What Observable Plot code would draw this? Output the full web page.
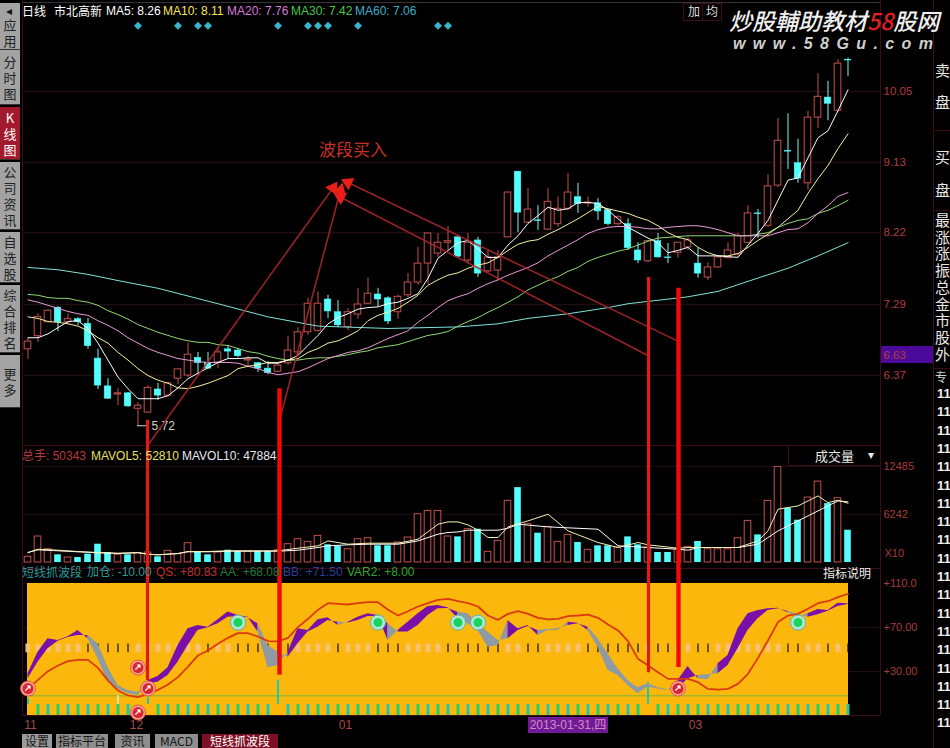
<!DOCTYPE html>
<html><head><meta charset="utf-8">
<script src="https://cdn.jsdelivr.net/npm/d3@7"></script>
<script src="https://cdn.jsdelivr.net/npm/@observablehq/plot@0.6"></script>
<style>
html,body{margin:0;padding:0;background:#000;}
#page{position:relative;width:950px;height:748px;overflow:hidden;background:#000;font-family:"Liberation Sans","Noto Sans CJK SC",sans-serif;font-size:12px;color:#fff;}
#page svg{position:absolute;background:transparent;}
.t{position:absolute;white-space:nowrap;line-height:14px;}
.btn{position:absolute;left:0;width:20px;background:#a3a3a3;color:#222;text-align:center;font-size:13px;line-height:16px;box-sizing:border-box;border-bottom:1px solid #333;font-family:"Noto Sans CJK SC";overflow:hidden;}
.tab{position:absolute;top:734px;height:14px;background:#8e8e8e;color:#151515;text-align:center;line-height:14px;font-size:12px;font-family:"Noto Sans CJK SC","Liberation Sans";}
.line{position:absolute;background:#3d0d16;}
</style></head><body><div id="page"></div>
<script>
const opens=[6.71,6.88,7.06,7.25,7.06,7.10,7.04,6.59,6.23,6.125,6.14,5.94,5.89,6.19,6.11,6.33,6.37,6.60,6.53,6.54,6.71,6.695,6.565,6.53,6.46,6.42,6.53,6.67,6.93,6.95,7.355,7.19,7.00,7.16,7.30,7.42,7.37,7.19,7.41,7.575,7.82,7.95,8.09,8.16,7.86,8.12,7.72,7.73,8.16,9.01,8.35,8.38,8.26,8.33,8.53,8.68,8.60,8.60,8.51,8.33,8.33,7.99,7.85,8.11,7.90,7.96,8.03,7.82,7.64,7.77,7.89,7.94,8.09,8.47,8.31,8.83,9.28,9.12,8.86,9.71,9.97,9.80,10.46];
const closes=[6.81,7.13,7.21,7.06,7.10,7.06,6.75,6.24,6.07,6.14,5.97,5.98,6.21,6.11,6.27,6.45,6.64,6.53,6.46,6.67,6.68,6.62,6.58,6.46,6.40,6.50,6.695,6.93,7.30,7.30,7.20,7.02,7.19,7.29,7.43,7.355,7.07,7.39,7.575,7.82,8.21,8.09,8.11,7.91,8.09,7.69,7.90,7.90,8.74,8.48,8.52,8.37,8.62,8.53,8.74,8.59,8.61,8.495,8.33,8.42,8.02,7.86,8.11,7.90,7.89,8.09,8.12,7.69,7.77,7.90,7.99,8.18,8.47,8.46,8.82,9.41,9.27,8.92,9.71,9.98,9.89,10.41,10.45];
const highs=[6.85,7.17,7.22,7.26,7.17,7.12,7.11,6.71,6.33,6.20,6.15,6.02,6.24,6.27,6.28,6.45,6.79,6.67,6.67,6.73,6.75,6.72,6.62,6.54,6.55,6.53,6.88,6.99,7.37,7.45,7.41,7.34,7.24,7.50,7.63,7.50,7.39,7.41,7.69,8.03,8.21,8.21,8.30,8.18,8.21,8.16,7.99,7.99,8.74,9.01,8.79,8.57,8.79,8.68,8.99,8.86,8.68,8.66,8.52,8.44,8.40,8.09,8.12,8.21,8.08,8.09,8.16,8.02,7.83,7.91,8.09,8.21,8.57,8.52,8.97,9.70,9.76,9.43,9.79,10.28,10.18,10.46,10.48];
const lows=[6.58,6.80,7.06,6.94,7.03,7.02,6.71,6.19,6.06,5.98,5.96,5.72,5.89,6.05,6.09,6.25,6.345,6.40,6.45,6.46,6.59,6.60,6.49,6.41,6.38,6.41,6.50,6.63,6.89,6.93,7.11,6.99,6.95,7.10,7.29,7.26,7.03,7.10,7.38,7.54,7.55,7.90,7.99,7.90,7.82,7.64,7.70,7.59,8.16,8.22,8.34,8.25,8.25,8.29,8.51,8.47,8.55,8.38,8.31,8.31,7.99,7.82,7.83,7.89,7.82,7.89,7.99,7.63,7.60,7.76,7.89,7.90,8.08,8.145,8.29,8.80,9.04,8.86,8.77,9.57,9.67,9.78,10.24];
const ma5=[6.86,6.86,6.91,6.99,7.07,7.08,6.98,6.79,6.57,6.35,6.20,6.07,6.07,6.07,6.11,6.21,6.33,6.40,6.47,6.54,6.59,6.59,6.60,6.60,6.53,6.53,6.57,6.63,6.76,6.89,7.04,7.12,7.17,7.23,7.25,7.26,7.30,7.32,7.37,7.43,7.63,7.89,7.99,8.09,8.12,8.01,7.90,7.90,8.06,8.18,8.34,8.44,8.55,8.51,8.53,8.61,8.61,8.60,8.51,8.40,8.29,8.22,8.15,8.09,7.96,7.99,8.03,7.92,7.92,7.92,7.91,7.90,8.06,8.21,8.38,8.64,8.90,8.93,9.19,9.45,9.54,9.80,10.07];
const ma10=[7.13,7.11,7.07,7.06,7.04,7.01,6.95,6.86,6.79,6.67,6.57,6.46,6.37,6.31,6.27,6.21,6.20,6.23,6.27,6.32,6.37,6.46,6.49,6.51,6.54,6.54,6.57,6.59,6.67,6.72,6.79,6.82,6.88,6.95,7.08,7.15,7.19,7.24,7.32,7.41,7.54,7.61,7.67,7.70,7.76,7.80,7.83,7.90,7.99,8.07,8.11,8.13,8.20,8.26,8.33,8.40,8.48,8.56,8.53,8.50,8.47,8.42,8.38,8.31,8.22,8.16,8.13,8.03,7.96,7.92,7.92,7.95,8.03,8.12,8.20,8.29,8.40,8.51,8.73,8.92,9.09,9.31,9.50];
const ma20=[7.35,7.32,7.28,7.24,7.20,7.17,7.15,7.08,7.02,6.95,6.86,6.79,6.72,6.67,6.63,6.59,6.57,6.55,6.54,6.54,6.54,6.53,6.49,6.46,6.41,6.38,6.40,6.42,6.47,6.53,6.59,6.63,6.67,6.69,6.73,6.79,6.85,6.90,6.95,7.06,7.15,7.25,7.34,7.39,7.43,7.50,7.56,7.61,7.67,7.72,7.77,7.83,7.92,7.99,8.06,8.13,8.21,8.26,8.29,8.30,8.30,8.29,8.27,8.27,8.29,8.30,8.31,8.31,8.29,8.26,8.22,8.18,8.18,8.18,8.18,8.22,8.26,8.27,8.35,8.47,8.57,8.69,8.74];
const ma30=[7.42,7.41,7.38,7.37,7.37,7.34,7.32,7.28,7.21,7.16,7.10,7.03,6.98,6.93,6.89,6.85,6.82,6.80,6.80,6.77,6.76,6.72,6.68,6.66,6.62,6.59,6.57,6.57,6.59,6.60,6.60,6.62,6.64,6.67,6.69,6.73,6.75,6.77,6.81,6.85,6.89,6.91,6.94,7.01,7.07,7.12,7.19,7.25,7.32,7.39,7.48,7.54,7.60,7.65,7.72,7.77,7.85,7.90,7.94,7.98,8.01,8.06,8.11,8.15,8.16,8.17,8.18,8.18,8.18,8.18,8.18,8.18,8.18,8.20,8.22,8.29,8.34,8.38,8.40,8.47,8.51,8.57,8.64];
const ma60Bars=[0,3,6,9,13,19,24,29,36,43,47,50,54,58,60,66,69,72,76,79,82];
const ma60=[7.77,7.74,7.68,7.60,7.50,7.30,7.13,7.01,6.98,7.00,7.04,7.11,7.17,7.25,7.30,7.39,7.46,7.59,7.76,7.92,8.09];
const priceTicks=[10.05,9.13,8.22,7.29,6.63,6.37];
const signalBars=[11,15,17,18,25,28,29,30,33,41,42];

const volumes=[736,3380,1730,1000,650,650,1080,2380,1300,1000,1000,1210,1300,740,1510,1080,2510,1300,1000,1300,1600,1430,1430,1430,1430,1600,2380,3030,2680,3460,2300,2120,1730,3030,3160,2170,2170,2600,3250,6280,6710,6710,3380,3330,4330,4330,1390,2810,8010,9740,4980,3810,4630,2680,3590,2600,1650,2170,2170,1950,3330,2300,1950,1300,1300,1730,2040,2730,1730,1730,1730,3160,5410,3590,8010,12430,7060,5500,8440,10520,7660,8360,4200];
const mavol5Bars=[0,1,3,5,7,9,11,12,13,15,16,18,20,25,27,29,30,32,34,37,39,41,42,43,44,45,46,47,48,50,52,53,54,57,59,61,62,65,66,71,73,74,75,77,79,80,81,82];
const mavol5=[1300,1730,1600,1430,1300,1210,1300,1080,1000,1170,1430,1430,1520,1520,1860,2170,2810,2380,2510,2510,3030,4980,5280,5280,4890,4200,3250,3250,4630,5410,6280,5200,4110,2600,1950,2600,2300,1860,1950,1950,2810,4110,6930,7360,8660,7790,8100,7710];
const mavol10Bars=[0,1,3,5,7,9,11,12,13,15,16,18,20,25,27,29,30,32,34,37,39,41,42,43,44,45,47,48,49,52,57,59,65,66,67,71,73,75,77,79,81,82];
const mavol10=[1300,1650,1520,1390,1260,1170,1260,1080,1000,1170,1390,1390,1470,1470,1600,1950,2170,2300,2380,2380,2810,3680,3900,3980,4200,4200,4200,4460,4980,4630,4330,2170,1730,1600,1950,1950,2380,4110,5410,6710,8010,7880];
const volumeTicks=[12485,6242];

const qs=[14.2,22.4,30.3,35.5,39.4,40.6,40.6,33.3,21.8,12.7,8.2,6.7,9.7,13.3,18.2,24.9,34.5,44.6,49.1,55.2,60.6,64.9,64.9,61.8,57.6,57.3,60.6,70.3,77.9,86.1,92.1,91.5,90.9,92.1,93,93,86.1,80.9,84.8,89.1,92.1,95.2,96.1,93.9,92.1,89.1,80.9,77,82.4,84.8,82.4,78.8,77.3,77.9,80.3,80.9,81.8,78.8,72.7,67.3,57.6,41.5,35.5,29.4,23.3,23.3,23.3,20.3,14.2,13.6,14.2,18.8,27.9,42.4,58.2,74.9,80.9,82.4,87,92.1,93.9,97.6,100.6];
const aa=[27.9,47.6,59.7,58.2,61.5,67.3,59.7,41.5,20.3,14.2,9.7,8.2,21.8,25.5,33.3,53.6,68.8,71.8,70.3,77,84,80.9,79.4,65.8,33.3,35.5,47.6,68.8,67.3,77,78.8,71.8,74.8,79.4,82.4,80.9,58.2,67.3,74.8,82.4,89.1,90,87.9,77.9,73.3,67.3,52.1,53.6,76.4,68.8,71.8,62.7,67.3,67.3,74.8,73.9,67.3,52.1,30.9,26.4,17.3,9.7,15.8,14.2,12.7,21.8,34.6,23.3,22.4,37,44.6,68.8,82.4,85.5,87,87.6,83.3,79.4,82.4,86.4,85.5,92.1,91.5];
const bb=[23.3,38.5,50.6,57.6,61,62.7,62.7,55.2,33.9,17.3,12.7,11.2,18.8,20.3,26.4,38.5,53.6,67.3,69.7,73.3,79.4,80,78.8,73.3,53.6,47.6,43,55.2,65.8,70.3,76.4,74.8,74.2,76.4,80,80,73.3,65.8,65.8,71.8,80.9,87,87.3,83.9,82.4,73.3,65.8,58.2,59.7,67.3,70.9,67.3,68.2,68.8,71.8,73.3,70.3,59.7,46,32.4,21.8,15.2,18.8,15.2,13.3,14.2,23.3,26.4,27.3,27.9,35.5,50.6,67.3,77.9,85.5,87,84.5,81.5,79.4,81.5,84.8,89.1,90.9];
const var2=8;
const blackTickBars=[6,7,8,9,10,18,21,22,23,24,25,26,31,35,36,37,42,43,44,45,46,47,50,51,56,57,58,59,60,61,63,64,67,68,76,77,80,82];
const stickGapBars=[0,11,12,25,62];
const tallStickBars=[0,12,25,62];
const tallStickValues=[5,6,22,20];
const redBallBars=[0,11,12,11,65];
const redBallValues=[14.5,33.6,14.5,-7.3,14.5];
const greenBallBars=[21,35,43,45,77];
const greenBallValues=[74.5,74.5,74.5,74.5,74.5];
const monthLabels=["11","12","01","03"];
const monthBars=[0.25,10.85,31.75,66.75];

const arrowFromBars=[11.95,25.15,65.25,62];
const arrowFromPrices=[5.46,5.79,6.80,6.63];
const arrowToBars=[30.5,31.25,32,31.25];
const arrowToPrices=[8.80,8.77,8.87,8.68];
const thinMarkBars=[11.95,62.05];
const thinMarkTops=[5.79,7.64];
const thinMarkEnds=[2.42,2.52];
const thickMarkBars=[25.15,65.05];
const thickMarkTops=[6.20,7.50];
const thickMarkEnds=[2.49,2.59];

const bars=d3.range(opens.length);
const RED="#c4504e",CYAN="#54fcfc",FONT='"Liberation Sans",sans-serif';
const xScale={domain:[-0.55,85.25],axis:null};
const fmt2=d=>d.toFixed(2);
const upBars=bars.filter(i=>closes[i]>=opens[i]),downBars=bars.filter(i=>closes[i]<opens[i]);
const W=.33;
const page=document.getElementById("page");
function place(svg,top){svg.style.left="0";svg.style.top=top+"px";page.appendChild(svg);}

function div(cls,css,html){const d=document.createElement("div");d.className=cls;d.style.cssText=css;d.innerHTML=html||"";page.appendChild(d);return d;}
function text(x,y,s,color,extra){div("t",`left:${x}px;top:${y-7}px;color:${color};${extra||""}`,s);}

[[22,2,858,1,"#333"],[22,445,858,1,"#3d0d16"],[22,568,858,1,"#3d0d16"],[22,715,858,1,"#3d0d16"]].forEach(([l,t,w,h,c])=>div("line",`left:${l}px;top:${t}px;width:${w}px;height:${h}px;background:${c}`));
[[22,0,715],[880,0,715],[933,0,748]].forEach(([l,t,h])=>div("line",`left:${l}px;top:${t}px;width:1px;height:${h}px`));
div("line","left:881px;top:346px;width:52px;height:17px;background:#4c0a9a");

const volPlot=Plot.plot({width:950,height:123,marginTop:0,marginBottom:0,marginLeft:22,marginRight:70,
  x:xScale,y:{domain:[-780,15216],range:[123,0]},
  marks:[
    Plot.ruleY(volumeTicks,{stroke:"#1f0c10",strokeWidth:1}),
    Plot.axisY(volumeTicks,{anchor:"right",tickSize:0,tickPadding:3,label:null,fill:"#a83c3c",fontSize:11,fontFamily:FONT,tickFormat:d=>String(d),textAnchor:"start"}),
    Plot.rect(upBars,{x1:i=>i-W,x2:i=>i+W,y1:0,y2:i=>volumes[i],fill:"#000",stroke:RED,strokeWidth:1}),
    Plot.rect(downBars,{x1:i=>i-W,x2:i=>i+W,y1:0,y2:i=>volumes[i],fill:CYAN}),
    Plot.line(mavol10Bars,{x:d=>d,y:(d,i)=>mavol10[i],stroke:"#ffffff",strokeWidth:1}),
    Plot.line(mavol5Bars,{x:d=>d,y:(d,i)=>mavol5[i],stroke:"#f5efb4",strokeWidth:1}),
    Plot.text(["X10"],{x:85.65,y:1170,text:d=>d,textAnchor:"start",fill:"#a83c3c",fontSize:11,fontFamily:FONT})
  ]});
place(volPlot,445);

const runs=[];
{let id=0;bars.forEach(i=>{const up=aa[i]>=bb[i];if(i>0&&up!==(aa[i-1]>=bb[i-1]))id++;runs.push({i,id,up});
  if(i<bars.length-1&&up!==(aa[i+1]>=bb[i+1]))runs.push({i:i+1,id,up});});}
const dashBars=bars.filter(i=>!blackTickBars.includes(i));
const stickBars=bars.filter(i=>!stickGapBars.includes(i));
const indPlot=Plot.plot({width:950,height:165,marginTop:0,marginBottom:0,marginLeft:22,marginRight:70,
  x:xScale,y:{domain:[-26.36,123.64],range:[165,0]},
  marks:[
    Plot.ruleY([70,30],{stroke:"#1f0c10"}),
    Plot.rect([0],{x1:-0.05,x2:82.05,y1:-10,y2:110,fill:"#fbb70c"}),
    Plot.axisY([110,70,30],{anchor:"right",tickSize:0,tickPadding:3,label:null,fill:"#a83c3c",fontSize:11,fontFamily:FONT,textAnchor:"start",tickFormat:d=>d===110?"+110.0":"+"+d.toFixed(2)}),
    Plot.ruleX(dashBars,{x:d=>d,y1:47,y2:55,stroke:"#f8c170",strokeWidth:5}),
    Plot.ruleX(blackTickBars,{x:d=>d,y1:47,y2:55,stroke:"#111",strokeWidth:1.2}),
    Plot.ruleY([var2],{x1:-0.05,x2:82.05,stroke:"#a3b52c",strokeWidth:1.5}),
    Plot.ruleX(stickBars.filter(i=>i%2===0),{x:d=>d,y1:-10,y2:0,stroke:"#22c9a8",strokeWidth:3}),
    Plot.ruleX(stickBars.filter(i=>i%2===1),{x:d=>d,y1:-10,y2:0,stroke:"#26cf6e",strokeWidth:3}),
    Plot.ruleX(tallStickBars,{x:d=>d,y1:0,y2:(d,i)=>tallStickValues[i],stroke:"#22c9a8",strokeWidth:2}),
    Plot.ruleX([9],{y1:0,y2:8,stroke:"#f4efd0",strokeWidth:1.5}),
    Plot.areaY(runs,{x:d=>d.i,y1:d=>aa[d.i],y2:d=>bb[d.i],z:"id",fill:d=>d.up?"#7a10aa":"#8e9ba3",curve:"linear"}),
    Plot.line(bars,{x:d=>d,y:i=>qs[i],stroke:"#d93a10",strokeWidth:1.8}),
    Plot.dot(redBallBars,{x:d=>d,y:(d,i)=>redBallValues[i],r:7.5,fill:"#f4a79a",stroke:"#e8563a",strokeWidth:1}),
    Plot.dot(redBallBars,{x:d=>d,y:(d,i)=>redBallValues[i],r:5.5,fill:"#d8252f"}),
    Plot.text(redBallBars,{x:d=>d,y:(d,i)=>redBallValues[i],text:()=>"↗",fill:"#fff",fontSize:9,fontWeight:"bold"}),
    Plot.dot(greenBallBars,{x:d=>d,y:(d,i)=>greenBallValues[i],r:7.5,fill:"#b8e6d8",stroke:"#54b8a8",strokeWidth:1}),
    Plot.dot(greenBallBars,{x:d=>d,y:(d,i)=>greenBallValues[i],r:4.5,fill:"#18d45c"}),
    Plot.text(monthLabels,{x:(d,i)=>monthBars[i],y:-19,text:d=>d,fill:"#a84a4a",fontSize:12,fontFamily:FONT})
  ]});
place(indPlot,568);

// Arrow tips: triangle pointing along each arrow (10 px per bar, 77.2 px per price unit)
const tipRotate=arrowFromBars.map((b,i)=>Math.atan2((arrowToBars[i]-b)*10,(arrowToPrices[i]-arrowFromPrices[i])*77.2)*180/Math.PI);
const mainPlot=Plot.plot({width:950,height:748,marginTop:0,marginBottom:0,marginLeft:22,marginRight:70,
  x:xScale,y:{domain:[1.5404,11.227],range:[748,0]},
  marks:[
    Plot.ruleY(priceTicks.filter(d=>d!==6.63),{stroke:"#1e0e11",strokeWidth:1.5}),
    Plot.axisY(priceTicks,{anchor:"right",tickSize:0,tickPadding:3,label:null,fill:"#b23c3c",fontSize:11.5,fontFamily:FONT,tickFormat:fmt2,textAnchor:"start"}),
    Plot.ruleX(upBars,{x:d=>d,y1:i=>lows[i],y2:i=>highs[i],stroke:RED,strokeWidth:1}),
    Plot.ruleX(downBars,{x:d=>d,y1:i=>lows[i],y2:i=>highs[i],stroke:"#7ff5f0",strokeWidth:1}),
    Plot.rect(upBars,{x1:i=>i-W,x2:i=>i+W,y1:i=>opens[i],y2:i=>closes[i],fill:"#000",stroke:RED,strokeWidth:1}),
    Plot.rect(downBars,{x1:i=>i-W,x2:i=>i+W,y1:i=>opens[i],y2:i=>closes[i],fill:CYAN,stroke:CYAN,strokeWidth:.5}),
    Plot.line(ma60Bars,{x:d=>d,y:(d,i)=>ma60[i],stroke:"#7fe4d8",strokeWidth:1}),
    Plot.line(bars,{x:d=>d,y:i=>ma30[i],stroke:"#8fd870",strokeWidth:1}),
    Plot.line(bars,{x:d=>d,y:i=>ma20[i],stroke:"#e89ad8",strokeWidth:1}),
    Plot.line(bars,{x:d=>d,y:i=>ma10[i],stroke:"#f6efa0",strokeWidth:1}),
    Plot.line(bars,{x:d=>d,y:i=>ma5[i],stroke:"#ffffff",strokeWidth:1}),
    Plot.dot(signalBars,{x:d=>d,y:10.90,symbol:"diamond2",r:3.6,fill:"#37b7cf"}),
    Plot.ruleY([5.72],{x1:10.95,x2:11.95,stroke:"#d8d8d8",strokeWidth:1}),
    Plot.text(["5.72"],{x:12.35,y:5.72,text:d=>d,textAnchor:"start",fill:"#cfcfcf",fontSize:12,fontFamily:FONT}),
    Plot.link(arrowFromBars,{x1:d=>d,y1:(d,i)=>arrowFromPrices[i],x2:(d,i)=>arrowToBars[i],y2:(d,i)=>arrowToPrices[i],stroke:"#a8262a",strokeWidth:1.6,strokeOpacity:.9}),
    Plot.dot(arrowToBars,{x:d=>d,y:(d,i)=>arrowToPrices[i],symbol:"triangle",r:5,fill:"#ea1f1a",rotate:(d,i)=>tipRotate[i]}),
    Plot.ruleX(thinMarkBars,{x:d=>d,y1:(d,i)=>thinMarkTops[i],y2:(d,i)=>thinMarkEnds[i],stroke:"#e01a14",strokeWidth:3.2}),
    Plot.ruleX(thickMarkBars,{x:d=>d,y1:(d,i)=>thickMarkTops[i],y2:(d,i)=>thickMarkEnds[i],stroke:"#f00a05",strokeWidth:4.4}),
    Plot.text(["波段买入"],{x:32.5,y:9.28,text:d=>d,fill:"#c8302a",fontSize:17,fontFamily:"Noto Sans CJK SC"})
  ]});
place(mainPlot,0);

text(22,11,"日线","#fff",'font-family:"Noto Sans CJK SC"');
text(54,11,"市北高新","#fff",'font-family:"Noto Sans CJK SC"');
[["MA5: 8.26",106,"#fff"],["MA10: 8.11",163,"#f6e65a"],["MA20: 7.76",227,"#d878d8"],["MA30: 7.42",291,"#48c848"],["MA60: 7.06",355,"#3cb0cc"]].forEach(([s,x,c])=>text(x,11,s,c));
text(688,11,"加","#ddd",'font-family:"Noto Sans CJK SC"');text(706,11,"均","#ddd",'font-family:"Noto Sans CJK SC"');
div("t","left:683px;top:3px;width:18px;height:16px;border:1px solid #3d0d16;");
div("t","left:702px;top:3px;width:18px;height:16px;border:1px solid #3d0d16;");
text(22,456,"总手: 50343","#b83a3a");
text(91,456,"MAVOL5: 52810","#e8e060");
text(182,456,"MAVOL10: 47884","#e8e8f0");
div("t","left:788px;top:446px;width:91px;height:19px;border:1px solid #3d0d16;border-top:none;border-right:none;");
text(815,456,"成交量","#e8e8e8",'font-family:"Noto Sans CJK SC";font-size:13px');
text(868,455,"▾","#e8e8e8",'font-size:12px');
text(22,572,"短线抓波段","#2f9a9a",'font-family:"Noto Sans CJK SC"');
text(87,572,"加仓: -10.00","#2f9a9a");
text(156,572,"QS: +80.83","#c03030");
text(220,572,"AA: +68.08","#207a3a");
text(283,572,"BB: +71.50","#2a3fa0");
text(347,572,"VAR2: +8.00","#2fa82f");
text(823,573,"指标说明","#eee",'font-family:"Noto Sans CJK SC";font-size:12px');
div("t","left:528px;top:717px;width:80px;height:16px;background:#6f1a96;color:#d48ac0;text-align:center;line-height:16px;","2013-01-31,四");

div("t",'left:729px;top:6px;font:italic 500 23px/28px "Noto Sans CJK SC";color:#f0f0f0;','炒股輔助教材<span style="color:#e02020">58</span>股网');
div("t",'left:733px;top:34px;font:italic bold 16px/20px "Liberation Sans";color:#cfcfcf;letter-spacing:7.4px;','www.58Gu.com');

const sideLabels=[["应用",3,47],["分时图",50,55],["K线图",107,53],["公司资讯",162,68],["自选股",232,51],["综合排名",285,68],["更多",355,53]];
sideLabels.forEach(([s,t,h],i)=>{const sel=i===2;
  div("btn",`top:${t}px;height:${h}px;padding-top:${i===0?14:Math.max(1,(h-16*[...s].length)/2)}px;${sel?"background:#a01a2c;color:#fff;":""}`,[...s].join("<br>"));});
text(6,11,"◂","#111","font-size:12px");

const fontCJK='font-family:"Noto Sans CJK SC";font-size:15px;';
[["卖",62],["盘",94],["买",149],["盘",182]].forEach(([c,t])=>div("t",`left:935px;top:${t}px;color:#e8e8e8;${fontCJK}line-height:16px;`,c));
div("t",`left:935px;top:212px;color:#e8e8e8;${fontCJK}line-height:16.7px;`,"最<br>涨<br>涨<br>振<br>总<br>金<br>市<br>股<br>外");
text(935,377,"专","#d0d0d0",'font-family:"Noto Sans CJK SC";font-size:12px');
d3.range(19).forEach(k=>text(937,394+18.3*k,"11","#f0f0f0","font-weight:bold;font-size:13px"));
[130,210,368].forEach(t=>div("line",`left:934px;top:${t}px;width:16px;height:1px;`));

[["设置",22,30,"#9a9a9a"],["指标平台",56,52,"#8e8e8e"],["资讯",115,35,"#8e8e8e"],["MACD",155,43,"#8e8e8e"],["短线抓波段",202,76,"#7c1026"]].forEach(([s,l,w,c],i)=>{
  div("tab",`left:${l}px;width:${w}px;background:${c};${i===4?"color:#fff;":""}`,s);});
</script></body></html>
